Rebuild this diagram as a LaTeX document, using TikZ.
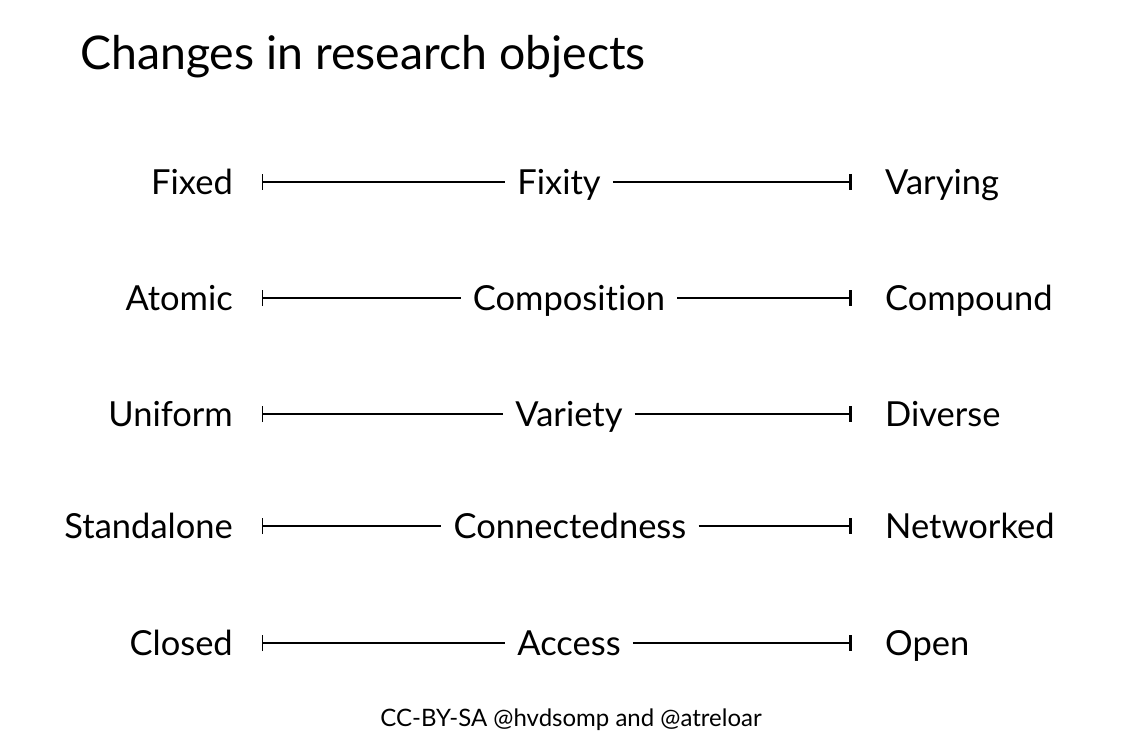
\documentclass[tikz,border=0pt]{standalone}
\usepackage{fontspec}
\setmainfont{Lato}[Ligatures={NoCommon}]
\usetikzlibrary{arrows.meta}
\tikzset{
  lbl/.style={anchor=base east, inner sep=0pt, font=\fontsize{34.5}{34.5}\selectfont},
  rbl/.style={anchor=base west, inner sep=0pt, font=\fontsize{34.5}{34.5}\selectfont},
  cbl/.style={anchor=base, inner xsep=12pt, inner ysep=0pt, font=\fontsize{34.5}{34.5}\selectfont},
  axisline/.style={line width=1.4pt, black},
  lefttick/.style={{Bar[width=16pt,line width=1pt]}-},
  righttick/.style={-{Bar[width=16pt,line width=2.6pt]}},
}
\begin{document}
\begin{tikzpicture}[x=1pt,y=-1pt]
\useasboundingbox (0,0) rectangle (1129,754);
\node[anchor=base west, inner sep=0pt, font=\fontsize{46.4}{46.4}\selectfont] (title) at (80,70) {Changes in research objects};
\foreach \i/\y/\l/\c/\cx/\r in {1/182/Fixed/Fixity/559/Varying,
                                2/298/Atomic/Composition/569/Compound,
                                3/414/Uniform/Variety/569/Diverse,
                                4/526/Standalone/Connectedness/570/Networked,
                                5/643/Closed/Access/569/Open}{
  \node[lbl] (l\i) at (233,\y+12) {\l};
  \node[rbl] (r\i) at (885,\y+12) {\r};
  \node[cbl] (c\i) at (\cx,\y+12) {\c};
  \coordinate (L\i) at (262,\y);
  \coordinate (R\i) at (852,\y);
  \draw[axisline,lefttick] (L\i) -- (L\i -| c\i.west);
  \draw[axisline,righttick] (R\i -| c\i.east) -- (R\i);
}
\node[anchor=base, inner sep=0pt, font=\fontsize{24}{24}\selectfont] (foot) at (571,726) {CC-BY-SA @hvdsomp and @atreloar};
\end{tikzpicture}
\end{document}
